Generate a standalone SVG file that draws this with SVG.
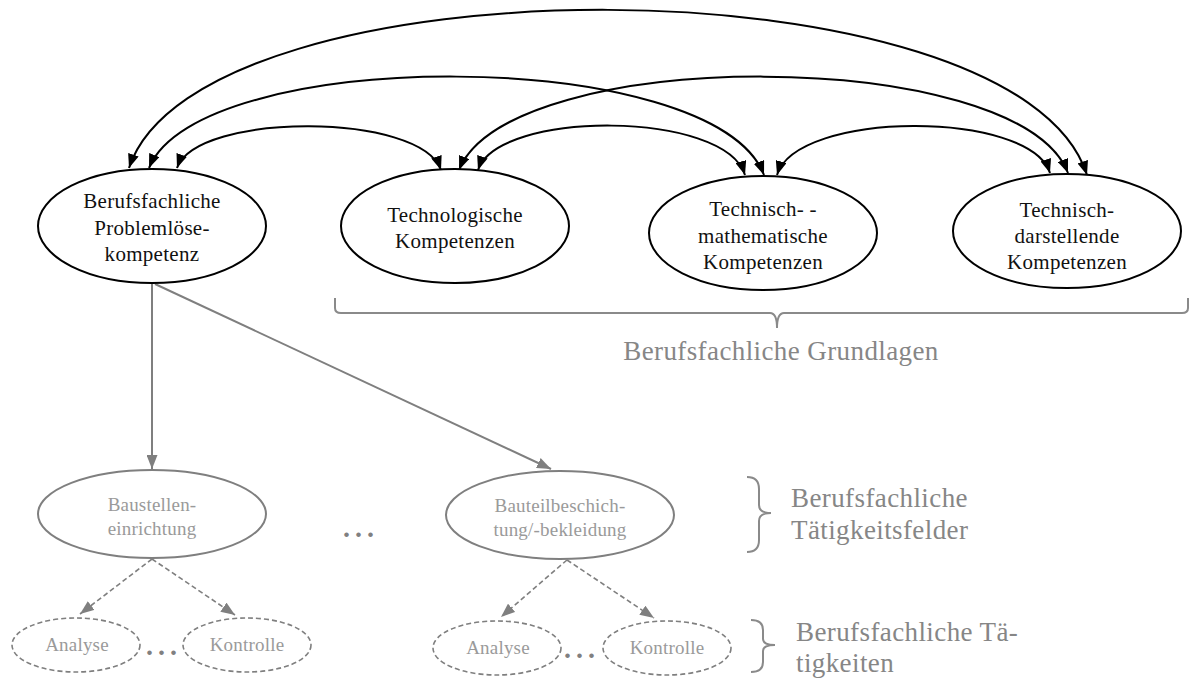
<svg xmlns="http://www.w3.org/2000/svg" width="1190" height="680" viewBox="0 0 1190 680" font-family="'Liberation Serif', 'Times New Roman', serif">
  <style>
    text { font-family: "Liberation Serif", "Times New Roman", serif; }
    .top { fill: #ffffff; stroke: #000000; stroke-width: 2; }
    .field { fill: #ffffff; stroke: #7f7f7f; stroke-width: 2; }
    .task { fill: #ffffff; stroke: #7f7f7f; stroke-width: 1.6; stroke-dasharray: 5 3; }
    .t-top { font-size: 21px; fill: #111111; text-anchor: middle; letter-spacing: 0.3px; }
    .t-low { font-size: 19px; fill: #9a9a9a; text-anchor: middle; letter-spacing: 0.2px; }
    .t-lab { font-size: 27px; fill: #868686; letter-spacing: 0.4px; }
    .dots { font-size: 28px; font-weight: bold; fill: #808080; letter-spacing: 5px; }
    .link { fill: none; stroke: #000000; stroke-width: 2; }
    .solid { fill: none; stroke: #7f7f7f; stroke-width: 2; }
    .dash { fill: none; stroke: #7f7f7f; stroke-width: 1.6; stroke-dasharray: 5 3; }
    .brace { fill: none; stroke: #8a8a8a; stroke-width: 2; }
  </style>
  <defs>
    <marker id="ah" viewBox="0 0 14 11" refX="14" refY="5.5" markerWidth="14" markerHeight="11" markerUnits="userSpaceOnUse" orient="auto-start-reverse">
      <path d="M0,0 L14,5.5 L0,11 z" fill="#000000"/>
    </marker>
    <marker id="ahg" viewBox="0 0 14 11" refX="14" refY="5.5" markerWidth="14" markerHeight="11" markerUnits="userSpaceOnUse" orient="auto">
      <path d="M0,0 L14,5.5 L0,11 z" fill="#7f7f7f"/>
    </marker>
  </defs>

  <!-- connectors -->
  <g id="connectors">
    <!-- two-way links between the competence areas -->
    <path class="link" d="M129,168 C199,-44 1017,-44 1087,175" marker-start="url(#ah)" marker-end="url(#ah)"/>
    <path class="link" d="M149,168 C199,45 714,45 764,175" marker-start="url(#ah)" marker-end="url(#ah)"/>
    <path class="link" d="M459,170 C509,45 1018,45 1068,173" marker-start="url(#ah)" marker-end="url(#ah)"/>
    <path class="link" d="M177,168 C197,112 421,112 441,170" marker-start="url(#ah)" marker-end="url(#ah)"/>
    <path class="link" d="M478,170 C498,110 725,110 745,175" marker-start="url(#ah)" marker-end="url(#ah)"/>
    <path class="link" d="M777,175 C797,110 1030,110 1050,173" marker-start="url(#ah)" marker-end="url(#ah)"/>
    <!-- problem solving competence to fields of activity -->
    <path class="solid" d="M152,284 L152,469" marker-end="url(#ahg)"/>
    <path class="solid" d="M155,284 L551,469" marker-end="url(#ahg)"/>
    <!-- fields of activity to activities -->
    <path class="dash" d="M152,559 L80,614" marker-end="url(#ahg)"/>
    <path class="dash" d="M152,559 L235,615" marker-end="url(#ahg)"/>
    <path class="dash" d="M567,560 L501,617" marker-end="url(#ahg)"/>
    <path class="dash" d="M567,560 L654,618" marker-end="url(#ahg)"/>
  </g>

  <!-- competence nodes -->
  <g id="problemloesekompetenz">
    <ellipse class="top" cx="152" cy="226" rx="114" ry="57"/>
    <text class="t-top" x="152" y="208">Berufsfachliche</text>
    <text class="t-top" x="152" y="235">Problemlöse-</text>
    <text class="t-top" x="152" y="261">kompetenz</text>
  </g>
  <g id="technologische">
    <ellipse class="top" cx="455" cy="226" rx="114" ry="57"/>
    <text class="t-top" x="455" y="222">Technologische</text>
    <text class="t-top" x="455" y="248">Kompetenzen</text>
  </g>
  <g id="mathematische">
    <ellipse class="top" cx="763" cy="233" rx="114" ry="57"/>
    <text class="t-top" x="763" y="216">Technisch- -</text>
    <text class="t-top" x="763" y="243">mathematische</text>
    <text class="t-top" x="763" y="269">Kompetenzen</text>
  </g>
  <g id="darstellende">
    <ellipse class="top" cx="1067" cy="231" rx="114" ry="57"/>
    <text class="t-top" x="1067" y="217">Technisch-</text>
    <text class="t-top" x="1067" y="243">darstellende</text>
    <text class="t-top" x="1067" y="269">Kompetenzen</text>
  </g>

  <!-- fields of activity -->
  <g id="baustelleneinrichtung">
    <ellipse class="field" cx="152" cy="514" rx="114" ry="44"/>
    <text class="t-low" x="152" y="511">Baustellen-</text>
    <text class="t-low" x="152" y="535">einrichtung</text>
  </g>
  <g id="bauteilbeschichtung">
    <ellipse class="field" cx="560" cy="515" rx="114" ry="44"/>
    <text class="t-low" x="560" y="512">Bauteilbeschich-</text>
    <text class="t-low" x="560" y="536">tung/-bekleidung</text>
  </g>
  <text class="dots" x="343" y="537">...</text>

  <!-- activities -->
  <g id="analyse-1">
    <ellipse class="task" cx="76" cy="645" rx="64" ry="27"/>
    <text class="t-low" x="77" y="651">Analyse</text>
  </g>
  <g id="kontrolle-1">
    <ellipse class="task" cx="247" cy="645" rx="64" ry="27"/>
    <text class="t-low" x="247" y="651">Kontrolle</text>
  </g>
  <text class="dots" x="146" y="655">...</text>
  <g id="analyse-2">
    <ellipse class="task" cx="497" cy="648" rx="64" ry="27"/>
    <text class="t-low" x="498" y="654">Analyse</text>
  </g>
  <g id="kontrolle-2">
    <ellipse class="task" cx="667" cy="648" rx="64" ry="27"/>
    <text class="t-low" x="667" y="654">Kontrolle</text>
  </g>
  <text class="dots" x="564" y="658">...</text>

  <!-- braces and level labels -->
  <g id="grundlagen">
    <path class="brace" d="M335,298 L335,308 Q335,313 341,313 L770,313 Q777,313 777,328 Q777,313 784,313 L1182,313 Q1188,313 1188,308 L1188,298"/>
    <text class="t-lab" x="781" y="360" text-anchor="middle">Berufsfachliche Grundlagen</text>
  </g>
  <g id="taetigkeitsfelder">
    <path class="brace" d="M747,477 Q759,477 759,489 L759,505 Q759,513 771,513 Q759,513 759,521 L759,540 Q759,552 747,552"/>
    <text class="t-lab" x="791" y="507">Berufsfachliche</text>
    <text class="t-lab" x="791" y="539">Tätigkeitsfelder</text>
  </g>
  <g id="taetigkeiten">
    <path class="brace" d="M751,620 Q763,620 763,630 L763,639 Q763,645 775,645 Q763,645 763,651 L763,662 Q763,672 751,672"/>
    <text class="t-lab" x="796" y="641">Berufsfachliche Tä-</text>
    <text class="t-lab" x="796" y="672">tigkeiten</text>
  </g>
</svg>
